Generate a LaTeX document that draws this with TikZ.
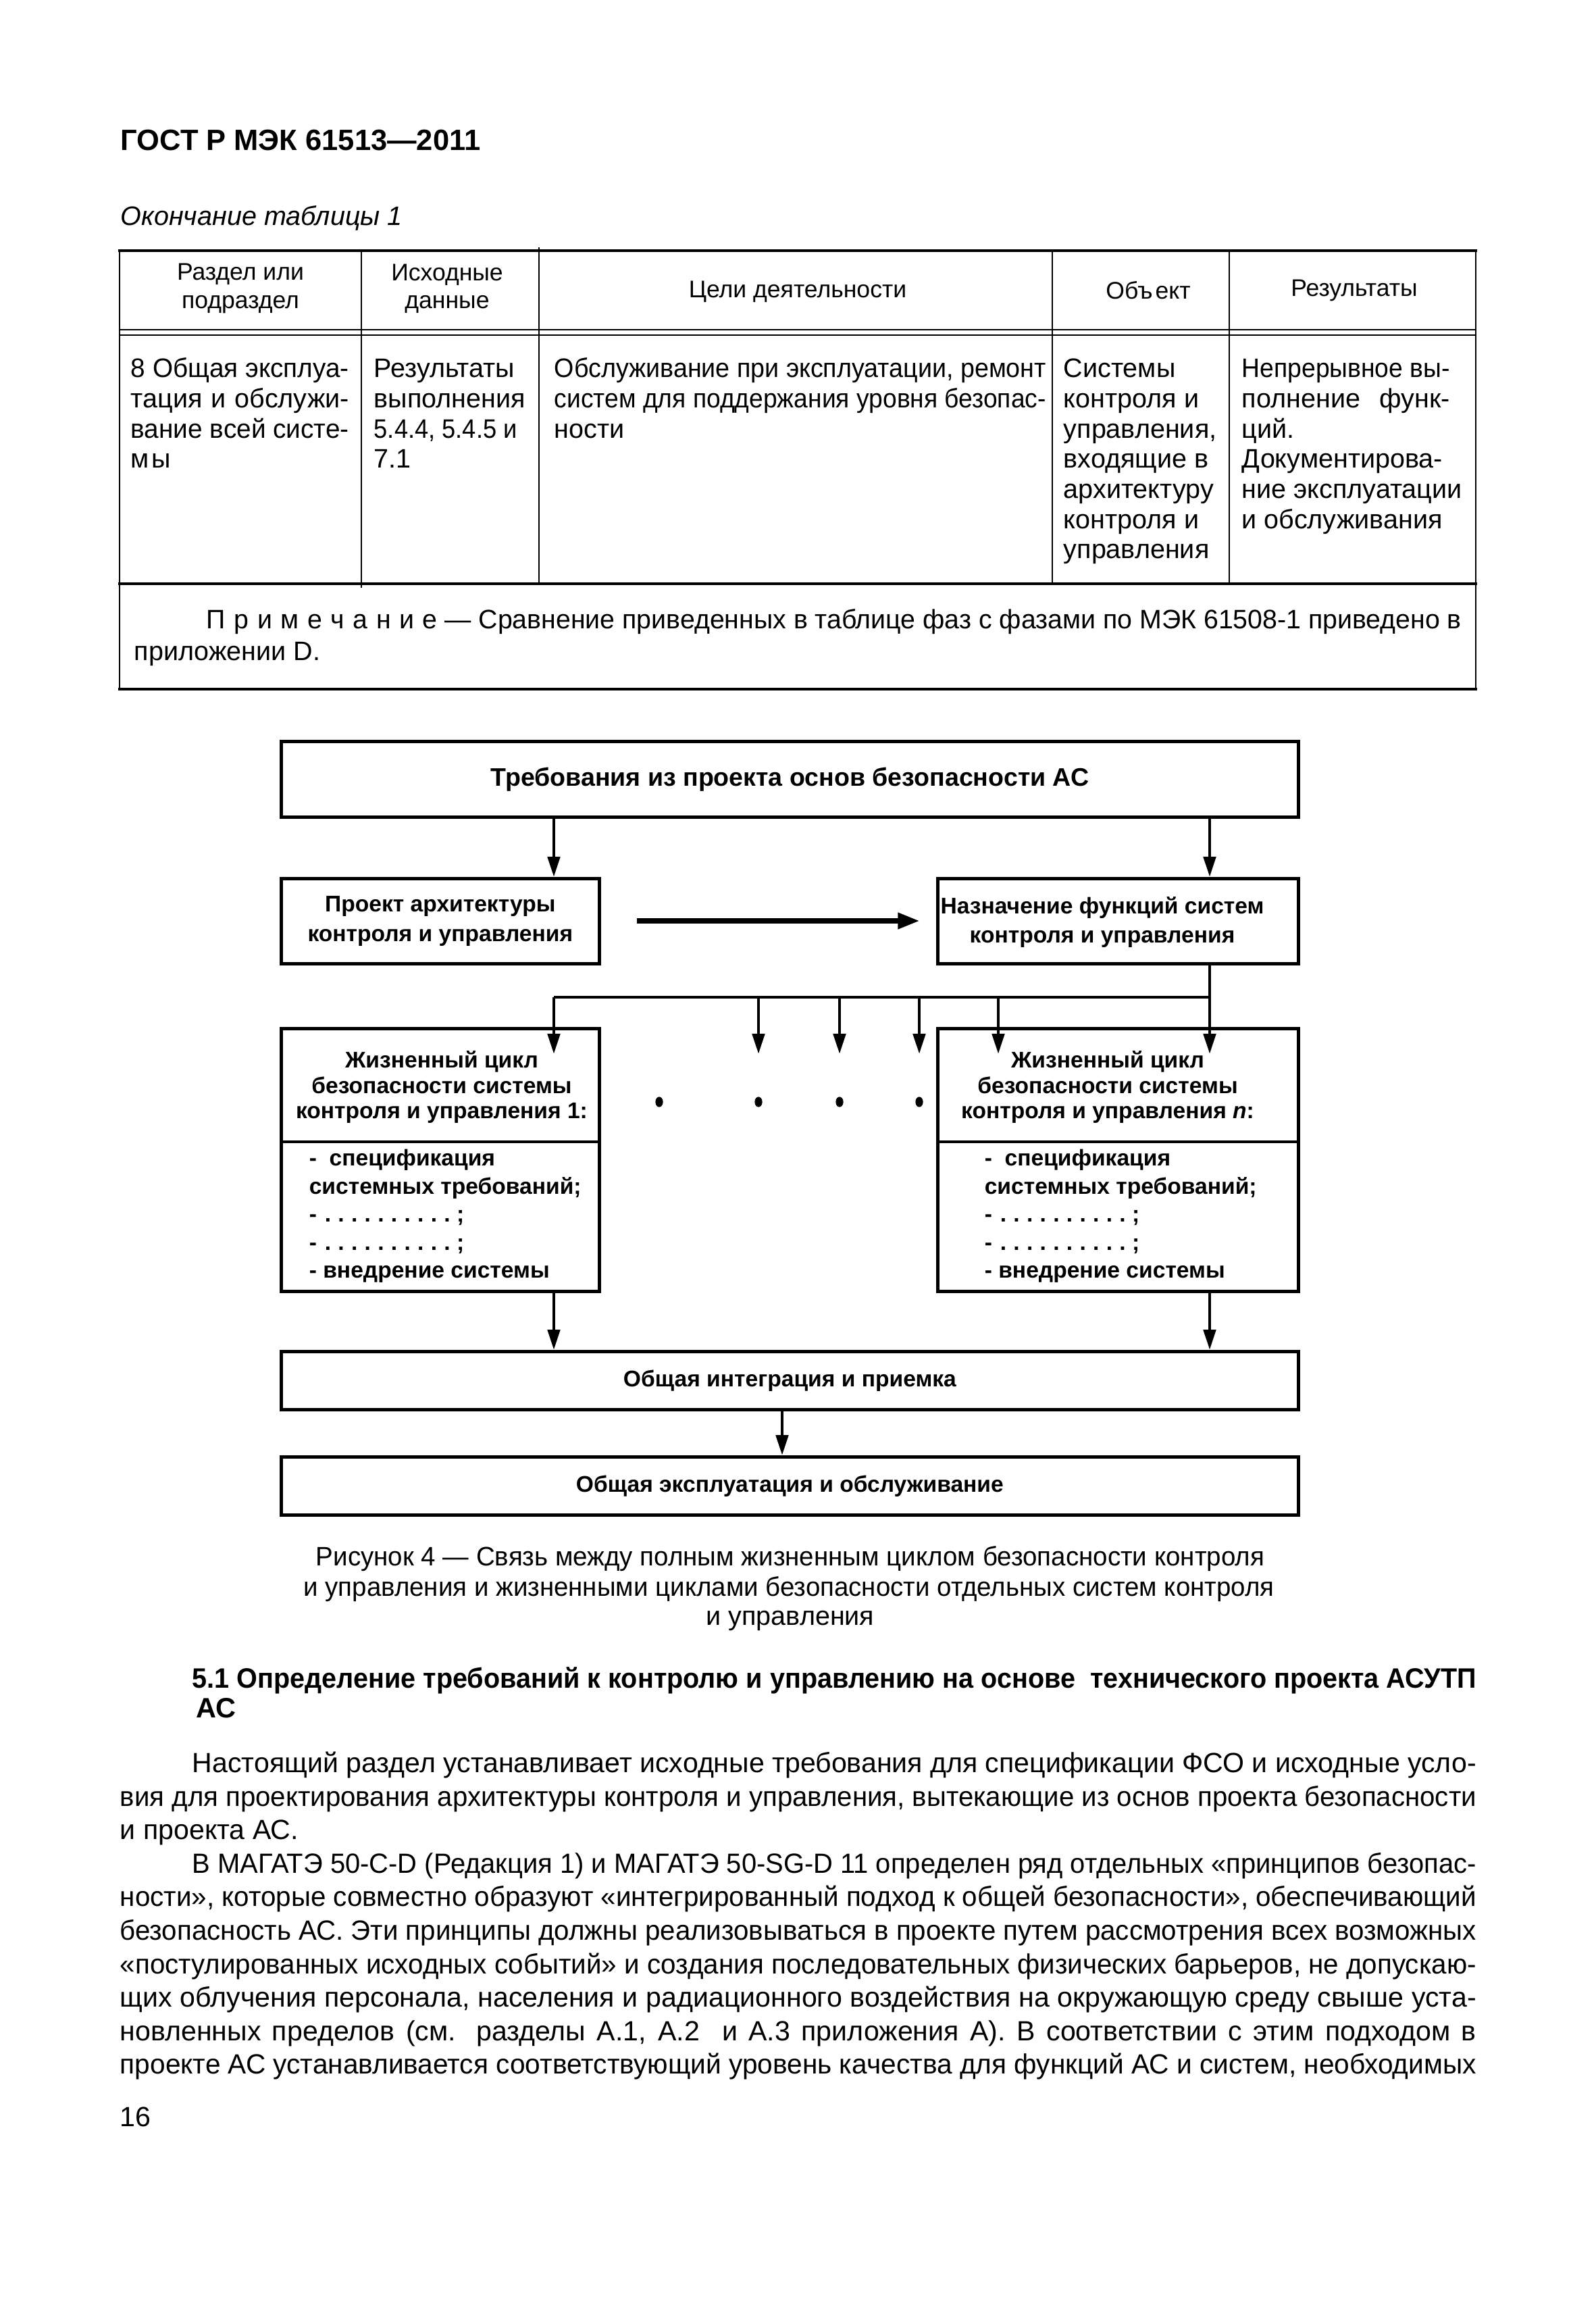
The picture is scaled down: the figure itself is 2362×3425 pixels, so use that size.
\documentclass[tikz,border=0pt]{standalone}
\usepackage{fontspec}
\usepackage{graphicx}
\setmainfont{Liberation Sans}
\usetikzlibrary{arrows.meta,shapes.geometric}
\newdimen\pxu \pxu=0.08891mm
\newsavebox\lnbox
\newcommand\jline[2]{\sbox\lnbox{#2}\ifdim\wd\lnbox>#1\relax\resizebox{#1}{\height}{\usebox\lnbox}\else\makebox[#1][s]{#2}\fi}
\newcommand\lsp{\kern3.2pt}
\newcommand\prim{П\lsp р\lsp и\lsp м\lsp е\lsp ч\lsp а\lsp н\lsp и\lsp е}
\newcommand\dleader{-\kern3pt.\kern2.6pt.\kern2.6pt.\kern2.6pt.\kern2.6pt.\kern2.6pt.\kern2.6pt.\kern2.6pt.\kern2.6pt.\kern2.6pt.\kern2.4pt;}
\begin{document}
\begin{tikzpicture}[x=0.08891mm,y=-0.08891mm,
  lt/.style={anchor=mid west, inner sep=0pt},
  body/.style={lt, font=\fontsize{10}{12}\selectfont},
  para/.style={lt, font=\fontsize{10.4}{12.5}\selectfont},
  th/.style={inner sep=0pt, align=center, font=\fontsize{9}{10.4}\selectfont},
  frame/.style={draw, line width=1.2pt, inner sep=0pt, anchor=north west},
  dtxt/.style={inner sep=0pt, align=center, font=\fontsize{8.5}{11}\selectfont\bfseries},
  ltxt/.style={inner sep=0pt, align=left, anchor=west, font=\fontsize{8.5}{10.5}\selectfont\bfseries},
  con/.style={line width=1.2pt},
  arr/.style={line width=1.2pt, -{Triangle[length=2.65mm, width=1.6mm]}},
  bigarr/.style={line width=2pt, -{Triangle[length=2.9mm, width=2.0mm]}},
  dot/.style={ellipse, fill, inner sep=0pt, minimum width=1.0mm, minimum height=1.35mm},
  tline/.style={line width=0.5pt},
  tthick/.style={line width=0.8pt, line cap=rect}
]
\useasboundingbox[fill=white] (0,0) rectangle (2362,3425);

% ---------- page header ----------
\node[lt, font=\fontsize{11}{13}\selectfont\bfseries] (hdr) at (178,212) {ГОСТ Р МЭК 61513—2011};
\node[lt, font=\fontsize{10}{12}\selectfont\itshape] (tcap) at (178,323) {Окончание таблицы 1};

% ---------- table ----------
\draw[tthick] (177,371) -- (2185,371);
\draw[line width=0.75pt] (177,488) -- (2185,488);
\draw[tline] (177,496) -- (2185,496);
\draw[tthick] (177,864) -- (2185,864);
\draw[tthick] (177,1020) -- (2185,1020);
\draw[line width=0.7pt] (177,371) -- (177,1020);
\draw[line width=0.7pt] (2185,371) -- (2185,1020);
\draw[tline] (535,371) -- (535,870);
\draw[tline] (798,366) -- (798,864);
\draw[tline] (1558,371) -- (1558,864);
\draw[tline] (1820,371) -- (1820,864);

\node[th] (h1) at (356,427) {Раздел или\\подраздел};
\node[th] (h2) at (662,427) {Исходные\\данные};
\node[th] (h3) at (1181,432) {Цели деятельности};
\node[th] (h4) at (1700,430) {Объ\kern1pt ект};
\node[th] (h5) at (2005,430) {Результаты};

\node[body] (a1) at (193,548) {\jline{323\pxu}{8 Общая эксплуа-}};
\node[body] (a2) at (193,593) {\jline{323\pxu}{тация и обслужи-}};
\node[body] (a3) at (193,638) {\jline{323\pxu}{вание всей систе-}};
\node[body] (a4) at (193,682) {м\kern1pt ы};

\node[body] (b1) at (553,548) {Результаты};
\node[body] (b2) at (553,593) {выполнения};
\node[body] (b3) at (553,638) {\jline{212\pxu}{5.4.4, 5.4.5 и}};
\node[body] (b4) at (553,682) {7.1};

\node[body] (c1) at (820,548) {\jline{728\pxu}{Обслуживание при эксплуатации, ремонт}};
\node[body] (c2) at (820,593) {\jline{728\pxu}{систем для поддержания уровня безопас-}};
\node[body] (c3) at (820,638) {ности};

\node[body] (d1) at (1574,548) {Системы};
\node[body] (d2) at (1574,593) {контроля и};
\node[body] (d3) at (1574,638) {управления,};
\node[body] (d4) at (1574,682) {входящие в};
\node[body] (d5) at (1574,727) {архитектуру};
\node[body] (d6) at (1574,772) {контроля и};
\node[body] (d7) at (1574,816) {управления};

\node[body] (e1) at (1838,548) {\jline{308\pxu}{Непрерывное вы-}};
\node[body] (e2) at (1838,593) {\jline{308\pxu}{полнение функ-}};
\node[body] (e3) at (1838,638) {ций.};
\node[body] (e4) at (1838,682) {Документирова-};
\node[body] (e5) at (1838,727) {ние эксплуатации};
\node[body] (e6) at (1838,772) {и обслуживания};

\node[body] (n1) at (305,920) {\jline{1858\pxu}{\prim{} — Сравнение приведенных в таблице фаз с фазами по МЭК 61508-1 приведено в}};
\node[body] (n2) at (198,967) {приложении D.};

% ---------- diagram ----------
\node[frame, minimum width=1506\pxu, minimum height=112\pxu, font=\fontsize{9.5}{11}\selectfont\bfseries] (req) at (414,1095) {Требования из проекта основ безопасности АС};
\node[frame, minimum width=471\pxu, minimum height=126\pxu, dtxt, anchor=north west] (arch) at (414,1298) {Проект архитектуры\\контроля и управления};
\node[frame, minimum width=534\pxu, minimum height=126\pxu] (func) at (1386,1298) {};
\node[dtxt] (funct) at (1632,1365) {Назначение функций систем\\контроля и управления};

\node[frame, minimum width=471\pxu, minimum height=389\pxu] (lc1) at (414,1520) {};
\node[frame, minimum width=534\pxu, minimum height=389\pxu] (lcn) at (1386,1520) {};
\draw[con] (414,1690) -- (885,1690);
\draw[con] (1386,1690) -- (1920,1690);
\node[dtxt, font=\fontsize{8.5}{9.6}\selectfont\bfseries] (lc1t) at (654,1609) {Жизненный цикл\\безопасности системы\\контроля и управления 1:};
\node[dtxt, font=\fontsize{8.5}{9.6}\selectfont\bfseries] (lcnt) at (1640,1609) {Жизненный цикл\\безопасности системы\\контроля и управления \textit{n}:};
\node[ltxt] (lc1b) at (457,1800) {-~~спецификация\\системных требований;\\\dleader\\\dleader\\- внедрение системы};
\node[ltxt] (lcnb) at (1457,1800) {-~~спецификация\\системных требований;\\\dleader\\\dleader\\- внедрение системы};

\node[frame, minimum width=1506\pxu, minimum height=86\pxu, dtxt] (integ) at (414,1998) {Общая интеграция и приемка};
\node[frame, minimum width=1506\pxu, minimum height=86\pxu, dtxt] (oper) at (414,2154) {Общая эксплуатация и обслуживание};

\node[dot] (p1) at (976,1631) {};
\node[dot] (p2) at (1123,1631) {};
\node[dot] (p3) at (1243,1631) {};
\node[dot] (p4) at (1361,1631) {};

\coordinate (xL) at (820,0);
\coordinate (xR) at (1791,0);
\coordinate (xM) at (1158,0);
\coordinate (bL) at (820,1476);
\coordinate (bR) at (1791,1476);
\coordinate (q2) at (1123,1476);
\coordinate (q3) at (1243,1476);
\coordinate (q4) at (1361,1476);
\coordinate (q5) at (1478,1476);
\coordinate (t1) at (820,1560);
\coordinate (t2) at (1123,1560);
\coordinate (t3) at (1243,1560);
\coordinate (t4) at (1361,1560);
\coordinate (t5) at (1478,1560);
\coordinate (t6) at (1791,1560);
\coordinate (hs) at (943,1363);
\coordinate (he) at (1362,1363);

\draw[arr] (req.south -| xL) -- (arch.north -| xL);
\draw[arr] (req.south -| xR) -- (func.north -| xR);
\draw[bigarr] (hs) -- (he);
\draw[con] (func.south -| xR) -- (bR) -- (bL);
\draw[arr] (bL) -- (t1);
\draw[arr] (q2) -- (t2);
\draw[arr] (q3) -- (t3);
\draw[arr] (q4) -- (t4);
\draw[arr] (q5) -- (t5);
\draw[arr] (bR) -- (t6);
\draw[arr] (lc1.south -| xL) -- (integ.north -| xL);
\draw[arr] (lcn.south -| xR) -- (integ.north -| xR);
\draw[arr] (integ.south -| xM) -- (oper.north -| xM);

% ---------- caption ----------
\node[anchor=mid, inner sep=0pt, font=\fontsize{10}{12}\selectfont] (cap1) at (1170,2307) {\jline{1404\pxu}{Рисунок 4 — Связь между полным жизненным циклом безопасности контроля}};
\node[anchor=mid, inner sep=0pt, font=\fontsize{10}{12}\selectfont] (cap2) at (1168,2352) {\jline{1437\pxu}{и управления и жизненными циклами безопасности отдельных систем контроля}};
\node[anchor=mid, inner sep=0pt, font=\fontsize{10}{12}\selectfont] (cap3) at (1170,2395) {и управления};

% ---------- section text ----------
\node[lt, font=\fontsize{10.5}{12}\selectfont\bfseries] (s1) at (284,2488) {\jline{1901\pxu}{5.1 Определение требований к контролю и управлению на основе \ технического проекта АСУТП}};
\node[lt, font=\fontsize{10.5}{12}\selectfont\bfseries] (s2) at (290,2532) {АС};

\node[para] (p01) at (284,2613) {\jline{1901\pxu}{Настоящий раздел устанавливает исходные требования для спецификации ФСО и исходные усло-}};
\node[para] (p02) at (177,2663) {\jline{2008\pxu}{вия для проектирования архитектуры контроля и управления, вытекающие из основ проекта безопасности}};
\node[para] (p03) at (177,2712) {и проекта АС.};
\node[para] (p04) at (284,2762) {\jline{1901\pxu}{В МАГАТЭ 50-С-D (Редакция 1) и МАГАТЭ 50-SG-D 11 определен ряд отдельных «принципов безопас-}};
\node[para] (p05) at (177,2811) {\jline{2008\pxu}{ности», которые совместно образуют «интегрированный подход к общей безопасности», обеспечивающий}};
\node[para] (p06) at (177,2861) {\jline{2008\pxu}{безопасность АС. Эти принципы должны реализовываться в проекте путем рассмотрения всех возможных}};
\node[para] (p07) at (177,2911) {\jline{2008\pxu}{«постулированных исходных событий» и создания последовательных физических барьеров, не допускаю-}};
\node[para] (p08) at (177,2960) {\jline{2008\pxu}{щих облучения персонала, населения и радиационного воздействия на окружающую среду свыше уста-}};
\node[para] (p09) at (177,3010) {\jline{2008\pxu}{новленных пределов (см. разделы А.1, А.2 \ и А.3 приложения А). В соответствии с этим подходом в}};
\node[para] (p10) at (177,3059) {\jline{2008\pxu}{проекте АС устанавливается соответствующий уровень качества для функций АС и систем, необходимых}};
\node[para] (pg) at (177,3137) {16};
\end{tikzpicture}
\end{document}
